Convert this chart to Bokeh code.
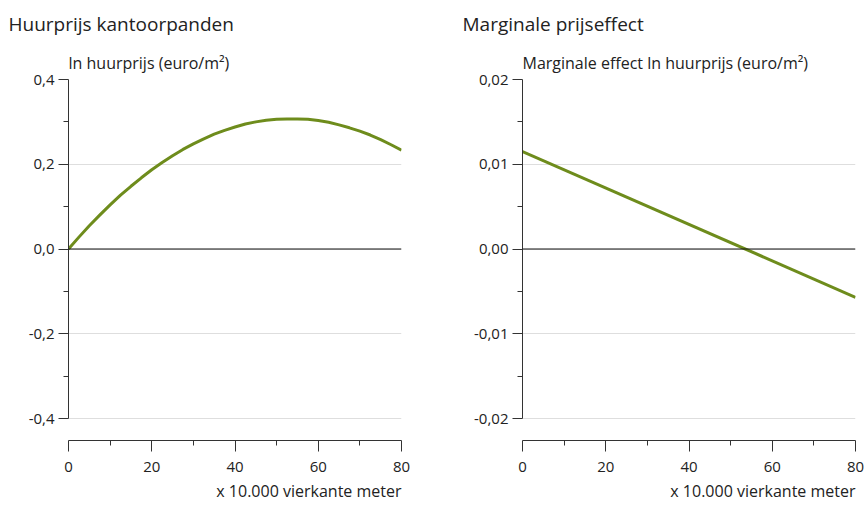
from bokeh.plotting import figure
from bokeh.models import (Range1d, FixedTicker, CustomJSTickFormatter, Span, Title, ColumnDataSource)
from bokeh.layouts import row
from bokeh.embed import file_html
from bokeh.resources import INLINE

# ---------------- data ----------------
size_x = [0, 2.5, 5, 7.5, 10, 12.5, 15, 17.5, 20, 22.5, 25, 27.5, 30, 32.5, 35, 37.5,
          40, 42.5, 45, 47.5, 50, 52.5, 55, 57.5, 60, 62.5, 65, 67.5, 70, 72.5, 75, 77.5, 80]
ln_rent = [0.000, 0.028, 0.055, 0.080, 0.104, 0.127, 0.148, 0.168, 0.187, 0.204, 0.220,
           0.235, 0.248, 0.260, 0.271, 0.280, 0.288, 0.295, 0.300, 0.304, 0.306, 0.307,
           0.307, 0.306, 0.303, 0.299, 0.293, 0.286, 0.278, 0.269, 0.258, 0.246, 0.233]
marg_x = [0, 80]
marg_effect = [0.0115, -0.0057]

x_ticks = [0, 20, 40, 60, 80]
x_minor = [10, 30, 50, 70]
left_ticks = [-0.4, -0.2, 0.0, 0.2, 0.4]
left_minor = [-0.3, -0.1, 0.1, 0.3]
right_ticks = [-0.02, -0.01, 0.0, 0.01, 0.02]
right_minor = [-0.015, -0.005, 0.005, 0.015]

title_left = "Huurprijs kantoorpanden"
sub_left = "ln huurprijs (euro/m²)"
title_right = "Marginale prijseffect"
sub_right = "Marginale effect ln huurprijs (euro/m²)"
xlabel = "x 10.000 vierkante meter"

GREEN = "#6e8c1c"
FONT = "Open Sans"
H = 506
TOP = 79
BOTTOM = 66
FRAME_H = H - TOP - BOTTOM
AXIS_GAP = 22  # px between lowest gridline and x axis


def make_panel(width, bl, br, ymax, ticks, minor, decimals, title, sub, xs, ys):
    yspan = 2 * ymax
    ppu = (FRAME_H - AXIS_GAP) / yspan
    ybot = -ymax - AXIS_GAP / ppu
    p = figure(width=width, height=H, output_backend="svg", toolbar_location=None,
               x_range=Range1d(0, 80), y_range=Range1d(ybot, ymax),
               min_border_left=bl, min_border_right=br,
               min_border_top=TOP, min_border_bottom=BOTTOM)
    p.outline_line_color = None
    p.background_fill_color = "white"
    p.border_fill_color = "white"

    p.xaxis.ticker = FixedTicker(ticks=x_ticks, minor_ticks=x_minor)
    p.yaxis.ticker = FixedTicker(ticks=ticks, minor_ticks=minor)
    p.yaxis.formatter = CustomJSTickFormatter(
        code="return tick.toFixed(%d).replace('.', ',');" % decimals)
    p.yaxis.bounds = (-ymax, ymax)
    p.xaxis.bounds = (0, 80)
    for ax in (p.xaxis, p.yaxis):
        ax.axis_line_color = "#333333"
        ax.major_tick_line_color = "#333333"
        ax.minor_tick_line_color = "#333333"
        ax.major_tick_in = 0
        ax.minor_tick_in = 0
        ax.major_label_text_font = FONT
        ax.major_label_text_font_size = "15px"
        ax.major_label_text_color = "#222222"
    p.yaxis.major_tick_out = 10
    p.yaxis.minor_tick_out = 5
    p.yaxis.major_label_standoff = 4
    p.xaxis.major_tick_out = 11
    p.xaxis.minor_tick_out = 5
    p.xaxis.major_label_standoff = 10

    p.xgrid.visible = False
    p.ygrid.ticker = FixedTicker(ticks=ticks)
    p.ygrid.grid_line_color = "#dedede"
    p.ygrid.grid_line_width = 1

    p.add_layout(Span(location=0, dimension="width", line_color="#111111", line_width=1))

    src = ColumnDataSource(dict(x=xs, y=ys))
    p.line("x", "y", source=src, line_color=GREEN, line_width=3, line_join="round")

    p.add_layout(Title(text=sub, align="left", text_font=FONT, text_font_size="16px",
                       text_font_style="normal", text_color="#222222", standoff=12), "above")
    p.add_layout(Title(text=title, align="left", offset=-60, text_font=FONT,
                       text_font_size="19px", text_font_style="normal",
                       text_color="#222222", standoff=13), "above")
    p.add_layout(Title(text=xlabel, align="right", text_font=FONT, text_font_size="16px",
                       text_font_style="normal", text_color="#222222", standoff=7), "below")
    return p


p1 = make_panel(460, 68, 59, 0.4, left_ticks, left_minor, 1,
                title_left, sub_left, size_x, ln_rent)
p2 = make_panel(404, 62, 9, 0.02, right_ticks, right_minor, 2,
                title_right, sub_right, marg_x, marg_effect)

layout = row(p1, p2)
open("out.html", "w").write(file_html(layout, INLINE))
